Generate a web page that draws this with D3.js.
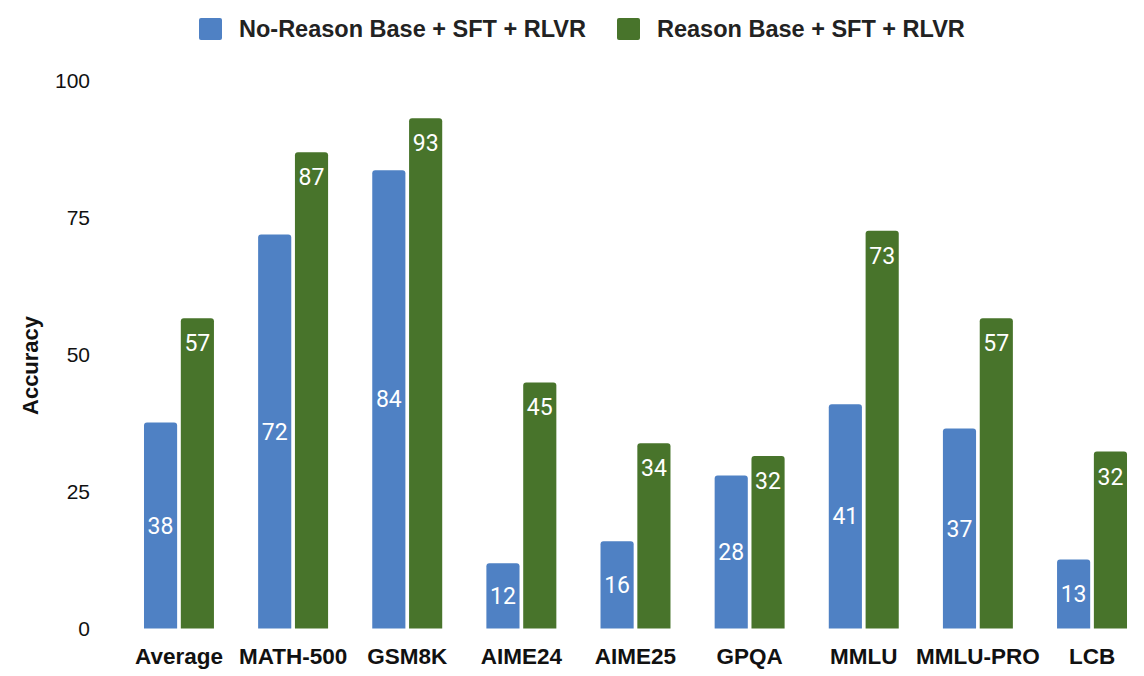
<!DOCTYPE html>
<html>
<head>
<meta charset="utf-8">
<script src="https://d3js.org/d3.v7.min.js"></script>
<style>
  body { margin: 0; background: #fff; }
</style>
</head>
<body>
<div id="graph"></div>
<script>

var categories = ["Average", "MATH-500", "GSM8K", "AIME24", "AIME25", "GPQA", "MMLU", "MMLU-PRO", "LCB"];
var seriesNames = ["No-Reason Base + SFT + RLVR", "Reason Base + SFT + RLVR"];
var noReason = [37.6, 71.9, 83.6, 11.9, 15.9, 27.9, 40.9, 36.5, 12.6];
var reason = [56.6, 86.9, 93.1, 44.9, 33.8, 31.5, 72.6, 56.6, 32.3];
var yTicks = [0, 25, 50, 75, 100];

var colors = ["#4f81c4", "#48742b"];
var w = 1144, h = 676;

var svg = d3.select("#graph")
  .append("svg")
  .attr("width", w)
  .attr("height", h);

var x0 = d3.scaleBand()
  .domain(categories)
  .range([136, 1135])
  .paddingInner(0.387)
  .paddingOuter(0.07);

var x1 = d3.scaleBand()
  .domain([0, 1])
  .range([0, x0.bandwidth()])
  .paddingInner(0.1);

var y = d3.scaleLinear()
  .domain([0, 100])
  .range([628.5, 80.5]);

// y tick labels (no axis line, no gridlines)
svg.append("g")
  .selectAll("text")
  .data(yTicks)
  .enter()
  .append("text")
  .attr("x", 90)
  .attr("y", function(d) { return y(d); })
  .attr("dy", "0.35em")
  .attr("text-anchor", "end")
  .attr("font-family", "Liberation Sans, Arial, sans-serif")
  .attr("font-size", "21px")
  .attr("fill", "#111")
  .text(function(d) { return d; });

// y axis title
svg.append("text")
  .attr("transform", "translate(30," + y(48) + ") rotate(-90)")
  .attr("text-anchor", "middle")
  .attr("dy", "0.35em")
  .attr("font-family", "Liberation Sans, Arial, sans-serif")
  .attr("font-weight", "bold")
  .attr("font-size", "22px")
  .attr("fill", "#111")
  .text("Accuracy");

// x category labels
svg.append("g")
  .selectAll("text")
  .data(categories)
  .enter()
  .append("text")
  .attr("x", function(d) { return x0(d) + x0.bandwidth() / 2; })
  .attr("y", 656)
  .attr("dy", "0.35em")
  .attr("text-anchor", "middle")
  .attr("font-family", "Liberation Sans, Arial, sans-serif")
  .attr("font-weight", "bold")
  .attr("font-size", "22.5px")
  .attr("fill", "#111")
  .text(function(d) { return d; });

function topRounded(x, yTop, bw, bh, r) {
  var b = yTop + bh;
  return "M" + x + "," + b +
    "V" + (yTop + r) +
    "Q" + x + "," + yTop + " " + (x + r) + "," + yTop +
    "H" + (x + bw - r) +
    "Q" + (x + bw) + "," + yTop + " " + (x + bw) + "," + (yTop + r) +
    "V" + b + "Z";
}

var rows = categories.map(function(c, i) {
  return { cat: c, vals: [noReason[i], reason[i]] };
});

var groups = svg.append("g")
  .selectAll("g")
  .data(rows)
  .enter()
  .append("g")
  .attr("transform", function(d) { return "translate(" + x0(d.cat) + ",0)"; });

var bars = groups.selectAll("g")
  .data(function(d) { return d.vals.map(function(v, k) { return { k: k, v: v }; }); })
  .enter()
  .append("g");

bars.append("path")
  .attr("d", function(d) {
    return topRounded(x1(d.k), y(d.v), x1.bandwidth(), y(0) - y(d.v), 3);
  })
  .attr("fill", function(d) { return colors[d.k]; });

// value labels: blue centered, green near top
bars.append("text")
  .attr("x", function(d) { return x1(d.k) + x1.bandwidth() / 2; })
  .attr("y", function(d) {
    return d.k === 0 ? (y(d.v) + y(0)) / 2 : y(d.v) + 25;
  })
  .attr("dy", "0.35em")
  .attr("text-anchor", "middle")
  .attr("font-family", "Roboto, sans-serif")
  .attr("font-size", "23px")
  .attr("fill", "#fff")
  .text(function(d) { return Math.round(d.v); });

// legend
var legendX = [199, 617];
var legend = svg.append("g")
  .selectAll("g")
  .data(seriesNames)
  .enter()
  .append("g")
  .attr("transform", function(d, i) { return "translate(" + legendX[i] + ",18)"; });

legend.append("rect")
  .attr("width", 23)
  .attr("height", 22)
  .attr("rx", 2)
  .attr("fill", function(d, i) { return colors[i]; });

legend.append("text")
  .attr("x", 40)
  .attr("y", 11)
  .attr("dy", "0.35em")
  .attr("font-family", "Liberation Sans, Arial, sans-serif")
  .attr("font-weight", "bold")
  .attr("font-size", "23.5px")
  .attr("fill", "#222")
  .text(function(d) { return d; });

</script>
</body>
</html>
